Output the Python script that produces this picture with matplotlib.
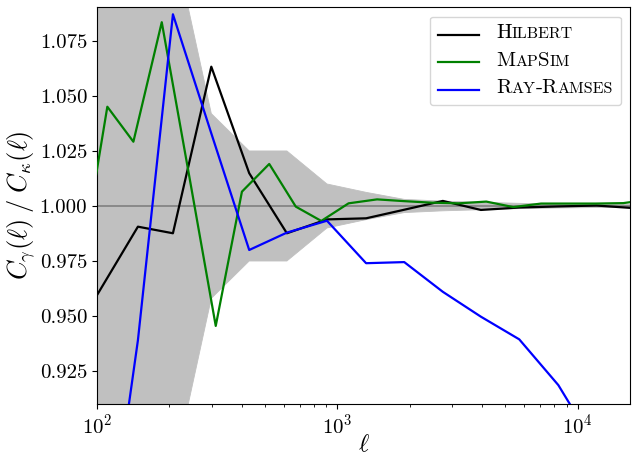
import numpy as np
import matplotlib
matplotlib.use("Agg")
import matplotlib.pyplot as plt
from matplotlib.lines import Line2D
from matplotlib.offsetbox import AnchoredOffsetbox, HPacker, VPacker, TextArea, DrawingArea

plt.rcParams['font.family'] = 'serif'
plt.rcParams['font.serif'] = ['cmr10']
plt.rcParams['mathtext.fontset'] = 'cm'
plt.rcParams['axes.formatter.use_mathtext'] = True

# bins shared by Hilbert, Ray-Ramses and the error band
ell_bins = [100, 148, 207, 299, 430, 617, 906, 1318, 1900, 2750, 3960, 5720, 8320, 12000, 17300]
hilbert = [0.9595, 0.9906, 0.9876, 1.0633, 1.0149, 0.9876, 0.9939, 0.9944, 0.9983, 1.0023,
           0.9982, 0.9993, 0.9998, 1.0002, 0.9990]
ray_ramses = [0.807, 0.939, 1.0871, 1.033, 0.980, 0.9879, 0.9933, 0.974, 0.9745, 0.961,
              0.9497, 0.9394, 0.9186, 0.890, 0.86]
sigma = [0.25, 0.18, 0.122, 0.042, 0.025, 0.025, 0.010, 0.0062, 0.003, 0.0022,
         0.0017, 0.0012, 0.0009, 0.0007, 0.0006]

# MapSim uses finer bins
ell_mapsim = [85, 110.4, 141.7, 186, 242, 312, 401, 521, 672, 858, 1114, 1464, 1900, 2470,
              3200, 4170, 5400, 7050, 9150, 11900, 15500, 20000]
mapsim = [0.970, 1.0451, 1.0292, 1.0835, 1.0136, 0.9455, 1.0065, 1.0191, 0.9997, 0.9932,
          1.0012, 1.0030, 1.0022, 1.0015, 1.0012, 1.0020, 0.9995, 1.0011, 1.0011, 1.0011,
          1.0013, 1.0030]

labels = ["Hilbert", "MapSim", "Ray-Ramses"]
colors = ["black", "green", "blue"]

fig = plt.figure(figsize=(6.32, 4.55), dpi=100)
ax = fig.add_axes([0.1535, 0.112, 0.844, 0.873])

sig = np.array(sigma)
ax.fill_between(ell_bins, 1 - sig, 1 + sig, color='silver', lw=0.6, zorder=1)
ax.axhline(1.0, color='gray', lw=1.2, zorder=2)
ax.plot(ell_bins, hilbert, color=colors[0], lw=1.6, zorder=3)
ax.plot(ell_mapsim, mapsim, color=colors[1], lw=1.6, zorder=3)
ax.plot(ell_bins, ray_ramses, color=colors[2], lw=1.6, zorder=3)

ax.set_xscale('log')
ax.set_xlim(100, 16600)
ax.set_ylim(0.91, 1.0905)
ax.set_yticks([0.925, 0.95, 0.975, 1.0, 1.025, 1.05, 1.075])
ax.set_yticklabels(["%.3f" % v for v in ax.get_yticks()])
ax.tick_params(labelsize=15)
ax.set_xlabel(r'$\ell$', fontsize=18, labelpad=-3)
ax.set_ylabel(r'$C_\gamma(\ell)\;/\;C_\kappa(\ell)$', fontsize=19, labelpad=2)


# fake small caps legend
def small_caps(word, big=15, small=11.5):
    parts = []
    cur = ""
    cur_up = None
    for ch in word:
        up = not ch.islower()
        if cur_up is None or up == cur_up:
            cur += ch
        else:
            parts.append((cur, cur_up))
            cur = ch
        cur_up = up
    parts.append((cur, cur_up))
    boxes = [TextArea(p.upper(), textprops=dict(fontsize=big if u else small)) for p, u in parts]
    return HPacker(children=boxes, align='baseline', pad=0, sep=0)


rows = []
for lab, col in zip(labels, colors):
    da = DrawingArea(30, 10, 0, 0)
    da.add_artist(Line2D([0, 30], [4, 4], color=col, lw=1.6))
    rows.append(HPacker(children=[da, small_caps(lab)], align='center', pad=0, sep=12))
box = VPacker(children=rows, align='left', pad=0, sep=7)
anchored = AnchoredOffsetbox(loc='upper right', child=box, pad=0.55, borderpad=0.7,
                             frameon=True, prop=dict(size=10))
anchored.patch.set_boxstyle('round,pad=0,rounding_size=0.2')
anchored.patch.set_edgecolor('0.8')
anchored.patch.set_alpha(0.8)
ax.add_artist(anchored)

fig.savefig('out.png', dpi=100)
